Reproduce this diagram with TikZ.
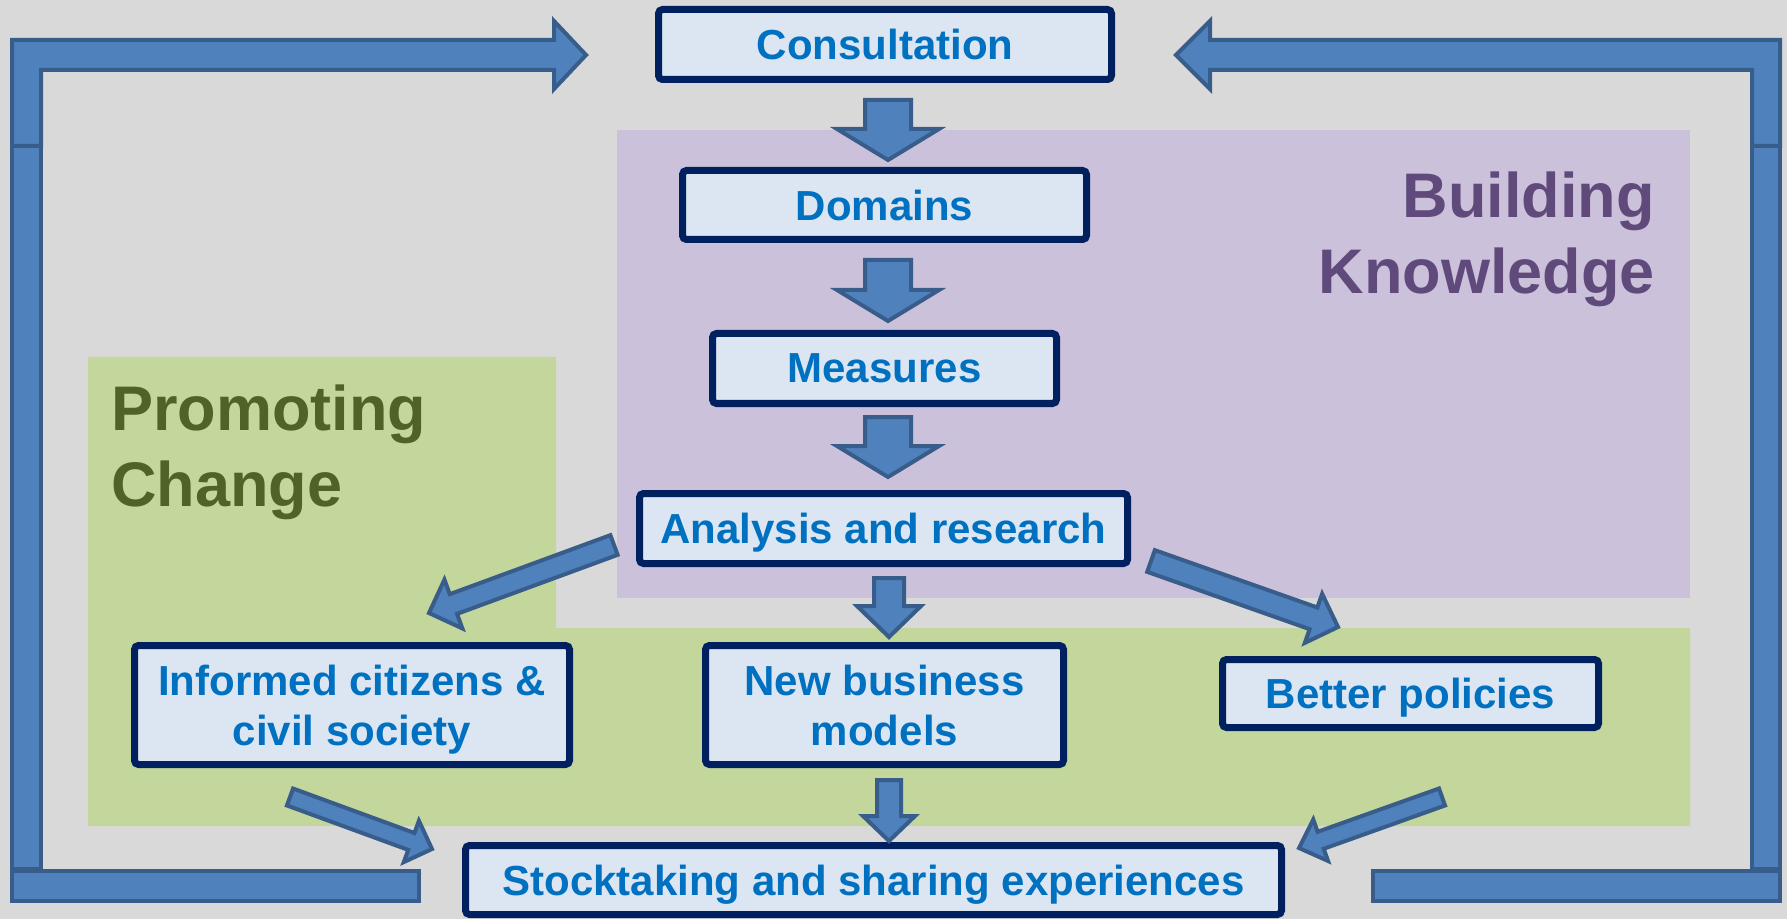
\documentclass[tikz,border=0pt]{standalone}
\usepackage{fontspec}
\setmainfont{Liberation Sans}
\usetikzlibrary{calc}

\definecolor{bgray}{HTML}{D9D9D9}
\definecolor{kpurple}{HTML}{CCC1DA}
\definecolor{ktext}{HTML}{604A7B}
\definecolor{cgreen}{HTML}{C3D69B}
\definecolor{ctext}{HTML}{4F6228}
\definecolor{boxfill}{HTML}{DCE6F2}
\definecolor{boxline}{HTML}{002060}
\definecolor{boxtext}{HTML}{0070C0}
\definecolor{arrfill}{HTML}{4F81BD}
\definecolor{arrline}{HTML}{385D8A}

% block arrow: tail, tip, half shaft, half head, head length
\newcommand{\blockarrow}[5]{%
  \coordinate (hb) at ($(#2)!#5!(#1)$);
  \draw[blockarr] ($(#1)!#3!90:(#2)$) -- ($(hb)!#3!90:(#2)$) -- ($(hb)!#4!90:(#2)$)
    -- (#2) -- ($(hb)!#4!-90:(#2)$) -- ($(hb)!#3!-90:(#2)$) -- ($(#1)!#3!-90:(#2)$) -- cycle;
}

\begin{document}
\begin{tikzpicture}[x=0.5pt, y=-0.5pt]
\tikzset{ box/.style={draw=boxline, line width=3.5pt, fill=boxfill, rounded corners=2pt,
            text=boxtext, font=\bfseries\fontsize{21}{25}\selectfont, align=center,
            inner sep=0pt, text depth=0pt},
          blockarr/.style={draw=arrline, fill=arrfill, line width=2pt, line join=miter},
          arealabel/.style={inner sep=0pt, font=\bfseries\fontsize{31.5}{38}\selectfont},
}

%\draw [lightgray, dashed](0,0) grid[step=100] (1787,919);

\fill[bgray] (0,0) rectangle (1787,919);
\useasboundingbox (0,0) rectangle (1787,919);

%%% Areas

% Promoting change
\fill[cgreen] (88,357) -- (556,357) -- (556,628) -- (1690,628) -- (1690,826) -- (88,826) -- cycle;
\node[arealabel, text=ctext, anchor=north west, align=left] (promo) at (111,384) {Promoting\\Change};

% Building knowledge
\fill[kpurple] (617,130) rectangle (1690,598);
\node[arealabel, text=ktext, anchor=north east, align=right] (build) at (1655,171) {Building\\Knowledge};

%%% Loop arrows

% left
\draw[blockarr] (12,146) -- (12,40) -- (554,40) -- (554,21) -- (586,55) -- (554,89) -- (554,70) -- (41,70) -- (41,146) -- cycle;
\draw[blockarr] (12,146) rectangle (41,869);
\draw[blockarr] (12,871) rectangle (419,901);

% right
\draw[blockarr] (1780,146) -- (1780,40) -- (1210,40) -- (1210,21) -- (1176,55) -- (1210,89) -- (1210,70) -- (1752,70) -- (1752,146) -- cycle;
\draw[blockarr] (1752,146) rectangle (1780,869);
\draw[blockarr] (1373,871) rectangle (1780,901);

%%% Blocos

\node[box, minimum width=226.5pt, minimum height=35pt] (cons) at (885,44.5) {Consultation};
\node[box, minimum width=202pt, minimum height=34.5pt] (dom) at (884.5,205) {Domains};
\node[box, minimum width=172pt, minimum height=35pt] (meas) at (884.5,368.5) {Measures};
\node[box, minimum width=244pt, minimum height=35pt] (ana) at (883.5,528.5) {Analysis and research};
\node[box, minimum width=217.5pt, minimum height=59.5pt] (inf) at (352,705) {Informed citizens \&\\civil society};
\node[box, minimum width=179pt, minimum height=59.5pt] (nbm) at (884.5,705) {New business\\models};
\node[box, minimum width=188pt, minimum height=34pt] (bet) at (1410.5,693.5) {Better policies};
\node[box, minimum width=408pt, minimum height=34.5pt] (stock) at (873.5,880) {Stocktaking and sharing experiences};

%%% Setas

% column
\coordinate (a1s) at (888,100);  \coordinate (a1e) at (888,160);
\coordinate (a2s) at (888,260);  \coordinate (a2e) at (888,321);
\coordinate (a3s) at (888,417);  \coordinate (a3e) at (888,477);
\coordinate (a4s) at (889,578);  \coordinate (a4e) at (889,637);
\coordinate (a5s) at (889,780);  \coordinate (a5e) at (889,841);
\blockarrow{a1s}{a1e}{11.5pt}{25.5pt}{15.5pt}
\blockarrow{a2s}{a2e}{11.5pt}{25.5pt}{15.5pt}
\blockarrow{a3s}{a3e}{11.5pt}{25.5pt}{15.5pt}
\blockarrow{a4s}{a4e}{7.5pt}{16pt}{15.5pt}
\blockarrow{a5s}{a5e}{6pt}{13pt}{12.5pt}

% analysis -> sides
\coordinate (a6s) at (614,545);  \coordinate (a6e) at (429,613);
\coordinate (a7s) at (1151,561); \coordinate (a7e) at (1338,627);
\blockarrow{a6s}{a6e}{5.25pt}{13pt}{13pt}
\blockarrow{a7s}{a7e}{5.75pt}{13pt}{13pt}

% sides -> stocktaking
\coordinate (a8s) at (290,797);  \coordinate (a8e) at (432,849);
\coordinate (a9s) at (1442,797); \coordinate (a9e) at (1299,848);
\blockarrow{a8s}{a8e}{4.5pt}{11pt}{11pt}
\blockarrow{a9s}{a9e}{4.5pt}{11pt}{11.5pt}

\end{tikzpicture}
\end{document}
